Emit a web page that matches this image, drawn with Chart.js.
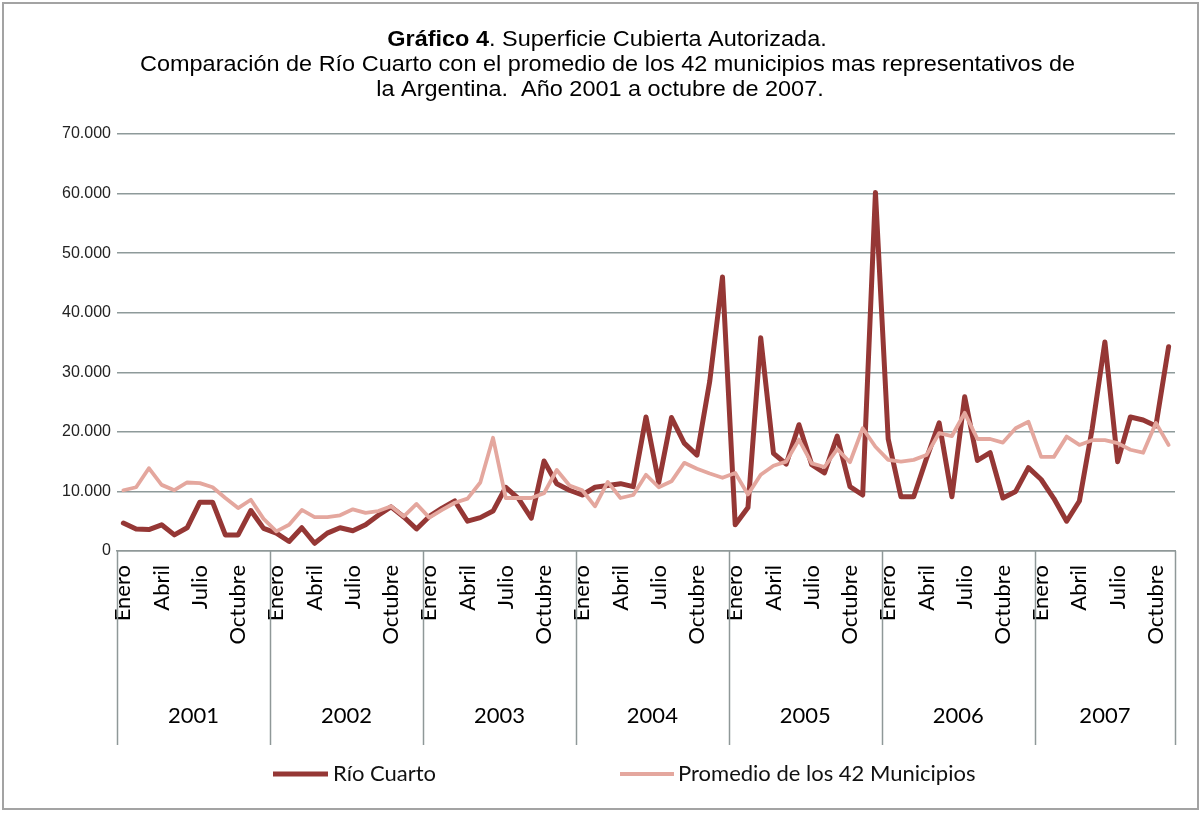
<!DOCTYPE html>
<html>
<head>
<meta charset="utf-8">
<title>Superficie Cubierta Autorizada</title>
<script src="https://cdn.jsdelivr.net/npm/chart.js@4.4.1/dist/chart.umd.min.js"></script>
<style>
  html, body { margin: 0; padding: 0; background: #ffffff; }
  #wrap { width: 1201px; height: 813px; position: relative; }
</style>
</head>
<body>
<div id="wrap"><canvas id="grafico" width="1201" height="813"></canvas></div>
<script>
// Años y meses del eje de categorías (2007 llega hasta noviembre en la serie)
const anios = ['2001', '2002', '2003', '2004', '2005', '2006', '2007'];
const mesesPorAnio = [12, 12, 12, 12, 12, 12, 11];
const nombresMeses = ['Enero', 'Febrero', 'Marzo', 'Abril', 'Mayo', 'Junio',
                      'Julio', 'Agosto', 'Septiembre', 'Octubre', 'Noviembre', 'Diciembre'];

// Superficie cubierta autorizada mensual (m²)
const rioCuarto = [
  4700, 3700, 3600, 4400, 2700, 3900, 8200, 8200, 2700, 2700, 6800, 3800,        // 2001
  3000, 1600, 3900, 1300, 3000, 3900, 3400, 4400, 6000, 7400, 5700, 3700,        // 2002
  5800, 7200, 8400, 5000, 5600, 6700, 10700, 8800, 5500, 15100, 11300, 10200,    // 2003
  9400, 10700, 11000, 11300, 10800, 22500, 11500, 22400, 18100, 16100, 28500, 46000, // 2004
  4400, 7300, 35800, 16400, 14600, 21200, 14500, 13100, 19300, 10800, 9400, 60200,   // 2005
  18800, 9100, 9100, 15500, 21500, 9100, 25900, 15200, 16500, 8900, 10000, 14000,    // 2006
  12000, 8800, 5000, 8400, 20500, 35100, 15000, 22500, 22000, 21000, 34300           // 2007
];
const promedio42 = [
  10200, 10700, 13900, 11100, 10200, 11500, 11400, 10700, 8900, 7200, 8600, 5400,   // 2001
  3300, 4400, 6900, 5700, 5700, 6000, 7000, 6400, 6700, 7500, 5800, 7900,           // 2002
  5600, 6900, 8100, 8800, 11500, 19000, 8900, 8900, 8900, 9700, 13600, 11000,       // 2003
  10200, 7500, 11600, 8900, 9400, 12800, 10700, 11700, 14800, 13800, 13000, 12300,  // 2004
  13100, 9500, 12800, 14300, 15000, 18700, 14700, 14100, 17100, 14900, 20600, 17500, // 2005
  15300, 15000, 15300, 16100, 19800, 19300, 23200, 18800, 18800, 18200, 20600, 21700, // 2006
  15800, 15800, 19200, 17800, 18600, 18600, 18100, 17000, 16500, 21500, 17800        // 2007
];

const nombresSeries = ['Río Cuarto', 'Promedio de los 42 Municipios'];
const coloresSeries = ['#953735', '#E4A79E'];

// Escala vertical
const yMin = 0, yMax = 70000, yPaso = 10000;

// Título
const tituloNegrita = 'Gráfico 4';
const tituloLinea1 = '. Superficie Cubierta Autorizada.';
const tituloLinea2 = 'Comparación de Río Cuarto con el promedio de los 42 municipios mas representativos de';
const tituloLinea3 = 'la Argentina.  Año 2001 a octubre de 2007.';

// Etiquetas de categoría: un mes por punto, agrupados por año
const etiquetas = [];
const mesDeCada = [];
const anioDeCada = [];
anios.forEach((a, k) => {
  for (let m = 0; m < mesesPorAnio[k]; m++) {
    etiquetas.push(nombresMeses[m]);
    mesDeCada.push(m);
    anioDeCada.push(k);
  }
});

const fuenteCat = 'Lato, "Open Sans", "Noto Sans", sans-serif';
const fuenteTitulo = '"Liberation Sans Narrow", "Liberation Sans", Arial, sans-serif';

function conPuntos(v) {
  return String(v).replace(/\B(?=(\d{3})+(?!\d))/g, '.');
}

// Dibuja fondo, divisiones de años, títulos, leyenda y marco
const decoracion = {
  id: 'decoracion',
  beforeDraw(chart) {
    const ctx = chart.ctx;
    ctx.save();
    ctx.fillStyle = '#ffffff';
    ctx.fillRect(0, 0, chart.width, chart.height);
    ctx.restore();
  },
  afterDraw(chart) {
    const ctx = chart.ctx;
    const area = chart.chartArea;
    const xs = chart.scales.x;

    // Tabla de categorías por año
    const bordes = [area.left];
    let idx = 0;
    for (let k = 0; k < anios.length - 1; k++) {
      idx += mesesPorAnio[k];
      bordes.push((xs.getPixelForValue(idx - 1) + xs.getPixelForValue(idx)) / 2);
    }
    bordes.push(area.right);

    ctx.save();
    ctx.strokeStyle = '#8f9898';
    ctx.lineWidth = 1.5;
    bordes.forEach(bx => {
      const px = Math.round(bx) + 0.5;
      ctx.beginPath();
      ctx.moveTo(px, area.bottom);
      ctx.lineTo(px, 745);
      ctx.stroke();
    });

    ctx.fillStyle = '#000000';
    ctx.font = '22px ' + fuenteCat;
    ctx.textAlign = 'center';
    ctx.textBaseline = 'middle';
    for (let k = 0; k < anios.length; k++) {
      ctx.fillText(anios[k], (bordes[k] + bordes[k + 1]) / 2, 716);
    }

    // Leyenda
    const items = [
      { x0: 273, x1: 328, tx: 333, w: 5 },
      { x0: 620, x1: 674, tx: 678, w: 4 }
    ];
    ctx.textAlign = 'left';
    items.forEach((it, i) => {
      ctx.strokeStyle = chart.data.datasets[i].borderColor;
      ctx.lineWidth = it.w;
      ctx.beginPath();
      ctx.moveTo(it.x0, 774);
      ctx.lineTo(it.x1, 774);
      ctx.stroke();
      ctx.fillStyle = '#111111';
      ctx.fillText(chart.data.datasets[i].label, it.tx, 774);
    });

    // Título (tres líneas, primera con parte en negrita)
    ctx.fillStyle = '#000000';
    ctx.textBaseline = 'alphabetic';
    ctx.textAlign = 'left';
    const tam = 22;
    const fN = tam + 'px ' + fuenteTitulo;
    const fB = 'bold ' + tam + 'px ' + fuenteTitulo;
    ctx.font = fN;
    const ancho2 = ctx.measureText(tituloLinea2).width;
    const sx = 935 / ancho2;

    function linea(partes, cx, base) {
      let total = 0;
      partes.forEach(p => { ctx.font = p.f; total += ctx.measureText(p.t).width; });
      ctx.save();
      ctx.translate(cx, base);
      ctx.scale(sx, 1);
      let x = -total / 2;
      partes.forEach(p => {
        ctx.font = p.f;
        ctx.fillText(p.t, x, 0);
        x += ctx.measureText(p.t).width;
      });
      ctx.restore();
    }
    linea([{ t: tituloNegrita, f: fB }, { t: tituloLinea1, f: fN }], 607, 46);
    linea([{ t: tituloLinea2, f: fN }], 607.5, 71);
    linea([{ t: tituloLinea3, f: fN }], 600, 96);

    // Marco exterior
    ctx.strokeStyle = '#a3a3a3';
    ctx.lineWidth = 2;
    ctx.strokeRect(3, 3, chart.width - 6, chart.height - 7);
    ctx.restore();
  }
};

new Chart(document.getElementById('grafico'), {
  type: 'line',
  data: {
    labels: etiquetas,
    datasets: [
      {
        label: nombresSeries[0],
        data: rioCuarto,
        borderColor: coloresSeries[0],
        backgroundColor: coloresSeries[0],
        borderWidth: 5,
        pointRadius: 0,
        tension: 0,
        borderJoinStyle: 'round',
        borderCapStyle: 'round',
        order: 1
      },
      {
        label: nombresSeries[1],
        data: promedio42,
        borderColor: coloresSeries[1],
        backgroundColor: coloresSeries[1],
        borderWidth: 3.8,
        pointRadius: 0,
        tension: 0,
        borderJoinStyle: 'round',
        borderCapStyle: 'round',
        order: 0
      }
    ]
  },
  options: {
    responsive: false,
    animation: false,
    devicePixelRatio: 1,
    layout: { padding: { left: 0, right: 26, top: 134, bottom: 0 } },
    plugins: {
      legend: { display: false },
      title: { display: false },
      tooltip: { enabled: false }
    },
    scales: {
      x: {
        type: 'category',
        offset: true,
        grid: { display: false, drawTicks: false },
        border: { display: true, color: '#8f9898', width: 1.5 },
        ticks: {
          autoSkip: false,
          maxRotation: 90,
          minRotation: 90,
          padding: 14,
          color: '#000000',
          font: { family: fuenteCat, size: 22 },
          callback: function (value, index) {
            return mesDeCada[index] % 3 === 0 ? etiquetas[index] : '';
          }
        },
        afterFit(scale) {
          scale.height = 262;
          scale.paddingLeft = 0;
          scale.paddingRight = 0;
        }
      },
      y: {
        min: yMin,
        max: yMax,
        grid: { color: '#8e9a9a', lineWidth: 1.5, drawTicks: false },
        border: { display: false },
        ticks: {
          stepSize: yPaso,
          padding: 6,
          color: '#222222',
          font: { family: '"Liberation Sans", Arial, sans-serif', size: 16 },
          callback: v => conPuntos(v)
        },
        afterFit(scale) { scale.width = 117; }
      }
    }
  },
  plugins: [decoracion]
});
</script>
</body>
</html>
